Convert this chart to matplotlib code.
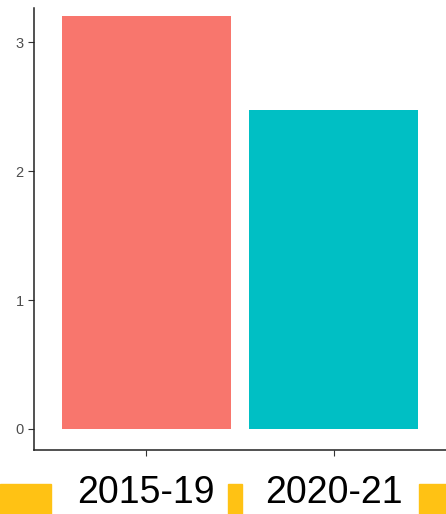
import matplotlib
matplotlib.use("Agg")
import matplotlib.pyplot as plt
from matplotlib.patches import Rectangle

# data
periods = ["2015-19", "2020-21"]
values = [3.20, 2.47]
colors = ["#F8766D", "#00BFC4"]
yticks = [0, 1, 2, 3]

W, H = 446, 514
fig = plt.figure(figsize=(W / 100, H / 100), dpi=100)
plt.rcParams['font.family'] = ['Liberation Sans', 'DejaVu Sans']

# axes placed in pixel terms
ax = fig.add_axes([34 / W, 64 / H, 412 / W, 442 / H])
pos = [1, 2]
ax.bar(pos, values, width=0.9, color=colors)
ax.set_xlim(0.4, 2.6)
ax.set_ylim(-0.163, 3.264)

ax.set_yticks(yticks)
ax.set_yticklabels([str(t) for t in yticks], fontsize=10.5, color="#4D4D4D")
ax.set_xticks(pos)
ax.set_xticklabels(periods, fontsize=27, color="black")

for s in ["top", "right"]:
    ax.spines[s].set_visible(False)
for s in ["left", "bottom"]:
    ax.spines[s].set_linewidth(1.1)
    ax.spines[s].set_color("#222222")
ax.tick_params(axis="y", length=4, width=0.8, color="#333333", pad=3.5)
ax.tick_params(axis="x", length=4, width=0.8, color="#333333", pad=14)

# yellow blocks along the bottom edge
blocks = [(0, 51), (228, 242), (419, 446)]
for x0, x1 in blocks:
    fig.patches.append(Rectangle((x0 / W, 0), (x1 - x0) / W, 30 / H,
                                 transform=fig.transFigure, color="#FFC214",
                                 zorder=0))

fig.savefig("out.png", dpi=100)
